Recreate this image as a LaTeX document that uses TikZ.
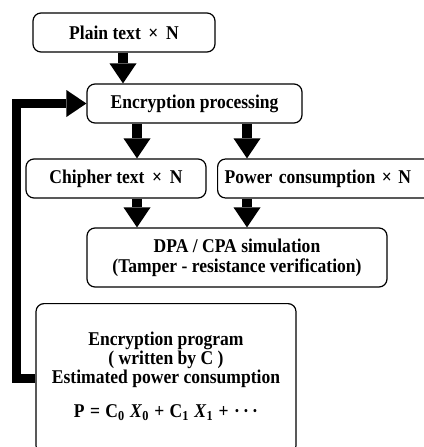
\documentclass[tikz,border=0pt]{standalone}
\usepackage{fontspec}
\setmainfont{Liberation Serif}[FakeStretch=0.9]
\usetikzlibrary{arrows.meta}
\begin{document}
\begin{tikzpicture}[x=1pt,y=-1pt,
  box/.style={draw,line width=1.2pt,rounded corners=8pt,inner sep=0pt,
    font=\fontsize{19.5}{20}\selectfont\bfseries,align=center},
  bigarrow/.style={line width=10pt,-{Triangle[width=27pt,length=20pt,line width=0pt]}},
  fb/.style={line width=9.5pt,-{Triangle[width=27pt,length=20pt,line width=0pt]}},
  txt/.style={font=\fontsize{19.5}{19}\selectfont\bfseries,inner sep=0pt}]
\useasboundingbox (0,0) rectangle (423,447);
\node[box,minimum width=182pt,minimum height=39pt] (plain) at (124,32.5) {Plain text \,×\, N};
\node[box,minimum width=215pt,minimum height=39pt] (enc) at (194.5,103.5) {Encryption processing};
\node[box,minimum width=180pt,minimum height=39pt] (ch) at (116,178.5) {Chipher text \,×\, N};
\node[box,anchor=west,minimum height=39pt,text width=214pt,inner xsep=7pt,align=left] (pw) at (217,178.5) {Power consumption × N};
\node[box,minimum width=300pt,minimum height=59pt] (dpa) at (237,257.5) {DPA / CPA simulation\\(Tamper - resistance verification)};
\node[box,anchor=north,minimum width=260pt,minimum height=150pt] (prog) at (166,303) {};
\node[txt,anchor=base] (t1) at (166,345) {Encryption program};
\node[txt,anchor=base] (t2) at (166,364) {( written by C )};
\node[txt,anchor=base] (t3) at (166,383) {Estimated power consumption};
\node[txt,anchor=base] (t4) at (166,417) {P\;=\;C\textsubscript{0}\;\textit{X}\textsubscript{0}\;+\;C\textsubscript{1}\;\textit{X}\textsubscript{1}\;+\;\textperiodcentered\,\textperiodcentered\,\textperiodcentered};
\coordinate (a0) at (123,0);
\coordinate (a1) at (137,0);
\coordinate (a2) at (247,0);
\draw[bigarrow] (a0 |- plain.south) -- (a0 |- enc.north);
\draw[bigarrow] (a1 |- enc.south) -- (a1 |- ch.north);
\draw[bigarrow] (a2 |- enc.south) -- (a2 |- pw.north);
\draw[bigarrow] (a1 |- ch.south) -- (a1 |- dpa.north);
\draw[bigarrow] (a2 |- pw.south) -- (a2 |- dpa.north);
\draw[fb] (prog.west) -- ++(-19,0) |- (enc.west);
\end{tikzpicture}
\end{document}
